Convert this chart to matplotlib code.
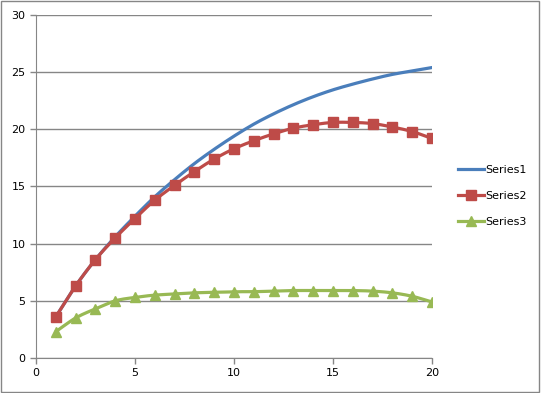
import numpy as np
import matplotlib.pyplot as plt
from matplotlib.patches import Rectangle

# datos
x = list(range(1, 21))
series1 = [3.6, 6.3, 8.6, 10.6, 12.4, 14.1, 15.6, 17.0, 18.25, 19.4,
           20.45, 21.35, 22.15, 22.85, 23.45, 23.95, 24.4, 24.8, 25.1, 25.4]
series2 = [3.6, 6.3, 8.6, 10.5, 12.2, 13.8, 15.1, 16.3, 17.4, 18.3,
           19.0, 19.6, 20.1, 20.4, 20.6, 20.6, 20.5, 20.2, 19.8, 19.2]
series3 = [2.3, 3.5, 4.3, 5.0, 5.3, 5.5, 5.6, 5.7, 5.75, 5.8,
           5.8, 5.85, 5.9, 5.9, 5.9, 5.9, 5.85, 5.7, 5.4, 4.9]
names = ["Series1", "Series2", "Series3"]
colors = ["#4A7EBB", "#BE4B48", "#98B954"]


def smooth(xs, ys, n=12):
    # curva Catmull-Rom para imitar la línea suavizada de Excel
    p = np.column_stack([xs, ys]).astype(float)
    p = np.vstack([p[0], p, p[-1]])
    out = []
    t = np.linspace(0, 1, n, endpoint=False)[:, None]
    for i in range(1, len(p) - 2):
        p0, p1, p2, p3 = p[i - 1], p[i], p[i + 1], p[i + 2]
        seg = 0.5 * ((2 * p1) + (-p0 + p2) * t + (2 * p0 - 5 * p1 + 4 * p2 - p3) * t ** 2
                     + (-p0 + 3 * p1 - 3 * p2 + p3) * t ** 3)
        out.append(seg)
    out.append(p[-2][None, :])
    out = np.vstack(out)
    return out[:, 0], out[:, 1]


fig = plt.figure(figsize=(5.41, 3.93), dpi=100)
ax = fig.add_axes([0.0665, 0.089, 0.732, 0.873])

for ys, name, c, m, ms in zip([series1, series2, series3], names, colors,
                              [None, "s", "^"], [0, 7, 7.5]):
    sx, sy = smooth(x, ys)
    ax.plot(sx, sy, color=c, lw=2.3, solid_capstyle="round")
    if m:
        ax.plot(x, ys, linestyle="none", marker=m, ms=ms, color=c)
    ax.plot([], [], color=c, lw=2.3, marker=m, ms=ms, label=name)

ax.set_xlim(0, 20)
ax.set_ylim(0, 30)
ax.set_xticks(range(0, 21, 5))
ax.set_yticks(range(0, 31, 5))
ax.grid(axis="y", color="#868686", lw=1)
ax.set_axisbelow(True)
for s in ["top", "right"]:
    ax.spines[s].set_visible(False)
for s in ["left", "bottom"]:
    ax.spines[s].set_color("#868686")
ax.tick_params(colors="#868686", labelcolor="black", labelsize=8, length=4, width=1)

ax.legend(loc="center left", bbox_to_anchor=(1.04, 0.472), frameon=False,
          fontsize=8, handlelength=2.4, handletextpad=0.1, labelspacing=1.45)

fig.patches.append(Rectangle((0.002, 0.003), 0.995, 0.994, transform=fig.transFigure,
                             fill=False, edgecolor="#868686", lw=1))

fig.savefig("out.png", dpi=100)
